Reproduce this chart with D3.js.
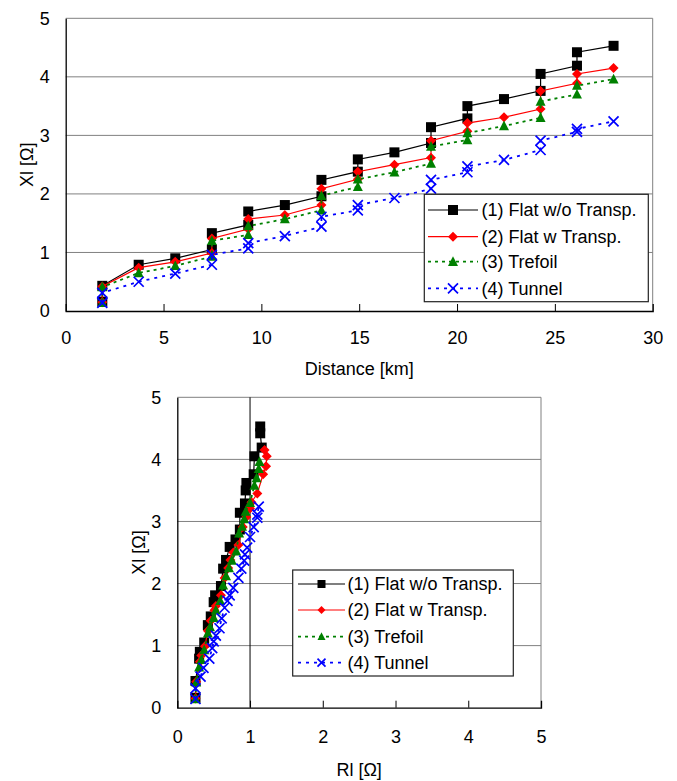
<!DOCTYPE html>
<html><head><meta charset="utf-8">
<script src="https://cdn.jsdelivr.net/npm/d3@7"></script>
<style>body{margin:0;background:#fff}svg{display:block;font-family:"Liberation Sans",Arial,sans-serif}</style>
</head><body><svg id="c" width="677" height="781"></svg>
<script>
// ---- data ----
const seriesNames = ["(1) Flat w/o Transp.", "(2) Flat w Transp.", "(3) Trefoil", "(4) Tunnel"];
const seriesNamesLower = ["(1) Flat w/o Transp.", "(2) Flat w  Transp.", "(3) Trefoil", "(4) Tunnel"];
const distanceKm = [1.87,1.87,3.73,5.6,7.47,7.47,9.33,9.33,11.2,13.07,13.07,14.93,14.93,16.8,18.67,18.67,20.53,20.53,22.4,24.27,24.27,26.13,26.13,28.0];
const xl1 = [0.16,0.43,0.79,0.90,1.05,1.33,1.47,1.70,1.81,1.96,2.24,2.38,2.59,2.71,2.87,3.14,3.29,3.50,3.62,3.76,4.05,4.19,4.42,4.53];
const xl2 = [0.15,0.42,0.74,0.84,0.99,1.24,1.40,1.57,1.64,1.81,2.09,2.25,2.38,2.50,2.62,2.91,3.07,3.21,3.31,3.45,3.76,3.89,4.05,4.15];
const xl3 = [0.14,0.41,0.65,0.77,0.93,1.20,1.30,1.45,1.57,1.72,1.97,2.12,2.25,2.37,2.52,2.81,2.92,3.04,3.16,3.30,3.58,3.70,3.85,3.96];
const xl4 = [0.14,0.31,0.50,0.64,0.79,0.96,1.07,1.16,1.28,1.44,1.61,1.72,1.81,1.93,2.09,2.24,2.37,2.47,2.58,2.75,2.91,3.06,3.11,3.24];
const rl1 = [0.25,0.25,0.30,0.31,0.37,0.42,0.46,0.50,0.52,0.60,0.63,0.67,0.72,0.80,0.86,0.86,0.93,0.94,0.95,1.05,1.06,1.16,1.14,1.14];
const rl2 = [0.25,0.26,0.31,0.33,0.38,0.42,0.46,0.51,0.53,0.60,0.65,0.70,0.73,0.77,0.84,0.90,0.95,1.00,1.02,1.10,1.18,1.22,1.23,1.20];
const rl3 = [0.25,0.26,0.30,0.33,0.37,0.42,0.45,0.50,0.53,0.59,0.63,0.67,0.71,0.75,0.81,0.85,0.89,0.92,0.94,1.00,1.06,1.09,1.12,1.13];
const rl4 = [0.25,0.25,0.32,0.36,0.44,0.48,0.50,0.53,0.58,0.61,0.65,0.69,0.72,0.77,0.84,0.88,0.92,0.93,0.96,1.00,1.05,1.10,1.10,1.12];
const distTicks = [0,5,10,15,20,25,30];
const xlTicks = [0,1,2,3,4,5];
const rlTicks = [0,1,2,3,4,5];

// ---- styles ----
const styles = [
  {color:"#000000", dash:null, width:1.2, marker:"square"},
  {color:"#ff0000", dash:null, width:1.2, marker:"diamond"},
  {color:"#008000", dash:"3,4", width:1.8, marker:"triangle"},
  {color:"#0000ff", dash:"3,5", width:1.8, marker:"x"}
];
const XL = [xl1,xl2,xl3,xl4], RL = [rl1,rl2,rl3,rl4];
const svg = d3.select("#c");
const FONT = 18;
const GRID = "#808080";

function marker(g, type, x, y, s, color){
  if(type==="square") g.append("rect").attr("x",x-s/2).attr("y",y-s/2).attr("width",s).attr("height",s).attr("fill",color);
  else if(type==="diamond") g.append("path").attr("d",`M${x},${y-s/2}L${x+s/2},${y}L${x},${y+s/2}L${x-s/2},${y}Z`).attr("fill",color);
  else if(type==="triangle") g.append("path").attr("d",`M${x},${y-s*0.55}L${x+s/2},${y+s*0.42}L${x-s/2},${y+s*0.42}Z`).attr("fill",color);
  else { const h=s/2; g.append("path").attr("d",`M${x-h},${y-h}L${x+h},${y+h}M${x-h},${y+h}L${x+h},${y-h}`).attr("stroke",color).attr("stroke-width",1.7).attr("fill","none"); }
}

function panel(opt){
  const {x, y, xs, ys, xTicks, yTicks, xLabel, yLabel, yLabelX, xLabelY, xTickY, vGrid, leg, names, ms} = opt;
  const g = svg.append("g");
  g.append("g").selectAll("line").data(yTicks.slice(1)).join("line")
    .attr("x1",x.range()[0]).attr("x2",x.range()[1]).attr("y1",d=>y(d)).attr("y2",d=>y(d))
    .attr("stroke",GRID).attr("stroke-width",1);
  g.append("line").attr("x1",x.range()[1]).attr("x2",x.range()[1]).attr("y1",y.range()[0]).attr("y2",y.range()[1]).attr("stroke",GRID);
  if(vGrid!==undefined){
    g.append("line").attr("x1",x(vGrid)).attr("x2",x(vGrid)).attr("y1",y.range()[0]).attr("y2",y.range()[1]).attr("stroke","#000");
  }
  const xa = g.append("g").attr("transform",`translate(0,${y.range()[0]})`)
    .call(d3.axisBottom(x).tickValues(xTicks).tickSize(-7).tickPadding(0).tickFormat(d3.format("d")));
  xa.select(".domain").attr("stroke","#000").attr("stroke-width",1.3);
  xa.selectAll(".tick line").attr("stroke","#000").filter(d=>d===xTicks[0]||d===xTicks[xTicks.length-1]).remove();
  xa.selectAll(".tick text").attr("y",xTickY - y.range()[0]).attr("dy","0.35em").attr("font-size",FONT).attr("fill","#000").attr("font-family","Liberation Sans, Arial, sans-serif");
  const ya = g.append("g").attr("transform",`translate(${x.range()[0]},0)`)
    .call(d3.axisLeft(y).tickValues(yTicks).tickSize(0).tickPadding(16).tickFormat(d3.format("d")));
  ya.select(".domain").attr("stroke","#000").attr("stroke-width",1.3);
  ya.selectAll(".tick text").attr("font-size",FONT).attr("fill","#000").attr("font-family","Liberation Sans, Arial, sans-serif");
  g.append("text").attr("x",(x.range()[0]+x.range()[1])/2).attr("y",xLabelY).attr("text-anchor","middle").attr("dy","0.35em").attr("font-size",FONT).text(xLabel);
  g.append("text").attr("transform",`translate(${yLabelX},${(y.range()[0]+y.range()[1])/2}) rotate(-90)`).attr("text-anchor","middle").attr("dy","0.35em").attr("font-size",FONT).text(yLabel);
  xs.forEach((xv,i)=>{
    const pts = xv.map((v,k)=>[x(v), y(ys[i][k])]);
    const st = styles[i];
    g.append("path").attr("d",d3.line()(pts)).attr("fill","none").attr("stroke",st.color).attr("stroke-width",st.width).attr("stroke-dasharray",st.dash);
    const mg = g.append("g");
    pts.forEach(p=>marker(mg, st.marker, p[0], p[1], ms, st.color));
  });
  const lg = g.append("g");
  lg.append("rect").attr("x",leg.x).attr("y",leg.y).attr("width",leg.w).attr("height",leg.h).attr("fill","#fff").attr("stroke","#222").attr("stroke-width",1.2);
  names.forEach((nm,i)=>{
    const ry = leg.rows[i], st = styles[i];
    lg.append("line").attr("x1",leg.l1).attr("x2",leg.l2).attr("y1",ry).attr("y2",ry).attr("stroke",st.color).attr("stroke-width",st.width).attr("stroke-dasharray",st.dash);
    marker(lg, st.marker, (leg.l1+leg.l2)/2, ry, leg.ms, st.color);
    lg.append("text").attr("x",leg.tx).attr("y",ry).attr("dy","0.35em").attr("font-size",FONT).text(nm);
  });
}

panel({
  x: d3.scaleLinear([0,30],[65.7,652.7]),
  y: d3.scaleLinear([0,5],[311,18.3]),
  xs: [distanceKm,distanceKm,distanceKm,distanceKm], ys: XL, names: seriesNames, ms: 10,
  xTicks: distTicks, yTicks: xlTicks,
  xLabel: "Distance [km]", yLabel: "Xl [Ω]", yLabelX: 27, xLabelY: 369, xTickY: 338,
  leg: {x:424.3, y:194.3, w:224, h:107.4, rows:[210,236.7,261.7,288.3], l1:428, l2:478, tx:481.5, ms:10}
});
panel({
  x: d3.scaleLinear([0,5],[177.3,541]),
  y: d3.scaleLinear([0,5],[707.7,397.3]),
  xs: RL, ys: XL, names: seriesNamesLower, ms: 10,
  xTicks: rlTicks, yTicks: xlTicks,
  xLabel: "Rl [Ω]", yLabel: "Xl [Ω]", yLabelX: 139, xLabelY: 770, xTickY: 737, vGrid: 1,
  leg: {x:292.7, y:570, w:220.6, h:106, rows:[584,610,636.7,662.7], l1:298, l2:345, tx:347.5, ms:8}
});
</script></body></html>
